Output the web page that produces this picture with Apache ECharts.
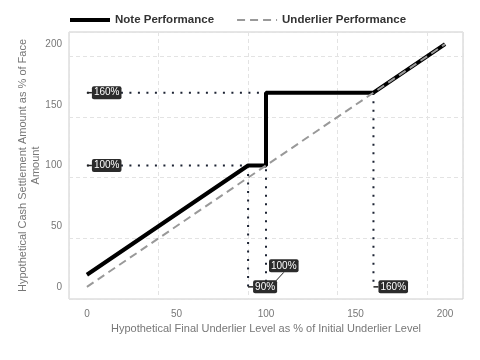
<!DOCTYPE html>
<html><head><meta charset="utf-8">
<script src="https://cdn.jsdelivr.net/npm/echarts@6/dist/echarts.min.js"></script>
<style>html,body{margin:0;padding:0;background:#fff}#c{width:480px;height:360px}</style>
</head><body><div id="c"></div>
<script>
var noteX = [0, 90, 100, 100, 160, 200];
var noteY = [10, 100, 100, 160, 160, 200];
var underX = [0, 200];
var underY = [0, 200];
var guideLines = [
  [[0, 160], [100, 160]],
  [[0, 100], [90, 100]],
  [[90, 100], [90, 0]],
  [[100, 160], [100, 0]],
  [[160, 160], [160, 0]]
];
var labelPts = [
  {x: 0, y: 160, text: '160%', dx: 0, dy: 0},
  {x: 0, y: 100, text: '100%', dx: 0, dy: 0},
  {x: 90, y: 0, text: '90%', dx: 0, dy: 0},
  {x: 100, y: 0, text: '100%', dx: -2, dy: -21},
  {x: 160, y: 0, text: '160%', dx: 0, dy: 0}
];
var xTicks = [0, 50, 100, 150, 200];

function zip(a, b) { return a.map(function (v, i) { return [v, b[i]]; }); }

var series = [];
guideLines.forEach(function (seg) {
  series.push({
    type: 'line', data: seg, symbol: 'none', silent: true, z: 1,
    lineStyle: {color: '#1c2333', width: 2, type: [2, 6.5]}
  });
});
series.push({
  name: 'Note Performance', type: 'line', data: zip(noteX, noteY), symbol: 'none', z: 3,
  itemStyle: {color: '#000'},
  lineStyle: {color: '#000', width: 4}
});
series.push({
  name: 'Underlier Performance', type: 'line', data: zip(underX, underY), symbol: 'none', z: 4,
  itemStyle: {color: '#999'},
  lineStyle: {color: '#999', width: 2, type: [8, 5]}
});
series.push({
  type: 'scatter', z: 10, silent: true,
  data: labelPts.map(function (p) { return {value: [p.x, p.y], name: p.text}; }),
  symbol: 'rect', symbolSize: [5, 1.5], symbolOffset: [2.5, 0],
  itemStyle: {color: '#222', opacity: 1},
  label: {
    show: true, position: 'right', distance: 0, formatter: '{b}',
    color: '#fff', backgroundColor: '#2b2b2b', borderRadius: 2, padding: [2, 2, 1, 2],
    fontSize: 10, fontFamily: 'Liberation Sans, Arial'
  },
  labelLayout: function (params) {
    var p = labelPts[params.dataIndex];
    return {dx: p.dx, dy: p.dy};
  },
  labelLine: {show: true, lineStyle: {color: '#222', width: 1}}
});

var chart = echarts.init(document.getElementById('c'), null, {renderer: 'canvas'});
chart.setOption({
  animation: false,
  textStyle: {fontFamily: 'Liberation Sans, Arial'},
  legend: {
    data: [
      {name: 'Note Performance', lineStyle: {width: 4, color: '#000'}},
      {name: 'Underlier Performance', lineStyle: {width: 2, color: '#999', type: [8, 5]}}
    ],
    top: 9, left: 63, itemWidth: 40, itemHeight: 10, itemGap: 22,
    itemStyle: {opacity: 0},
    textStyle: {fontSize: 11.5, fontWeight: 'bold', color: '#333'}
  },
  grid: {left: 69, right: 17, top: 32, bottom: 61, show: true, borderColor: '#ccc', borderWidth: 1,
    containLabel: false, outerBoundsMode: 'none'},
  xAxis: {
    type: 'value', min: -10, max: 210, interval: 50,
    name: 'Hypothetical Final Underlier Level as % of Initial Underlier Level',
    nameLocation: 'middle', nameGap: 24, nameMoveOverlap: false,
    nameTextStyle: {color: '#777', fontSize: 11},
    axisLine: {show: false}, axisTick: {show: false},
    axisLabel: {color: '#777', fontSize: 10, margin: 10, customValues: xTicks},
    splitLine: {show: true, lineStyle: {color: '#e3e3e3', type: [4, 3]}, customValues: xTicks}
  },
  yAxis: {
    type: 'value', min: -10, max: 210, interval: 50,
    name: 'Hypothetical Cash Settlement Amount as % of Face\nAmount',
    nameLocation: 'middle', nameGap: 27, nameMoveOverlap: false,
    nameTextStyle: {color: '#777', fontSize: 11, lineHeight: 13},
    axisLine: {show: false}, axisTick: {show: false},
    axisLabel: {color: '#777', fontSize: 10, margin: 7, customValues: xTicks},
    splitLine: {show: true, lineStyle: {color: '#e3e3e3', type: [4, 3]}, customValues: xTicks}
  },
  series: series
});
</script></body></html>
